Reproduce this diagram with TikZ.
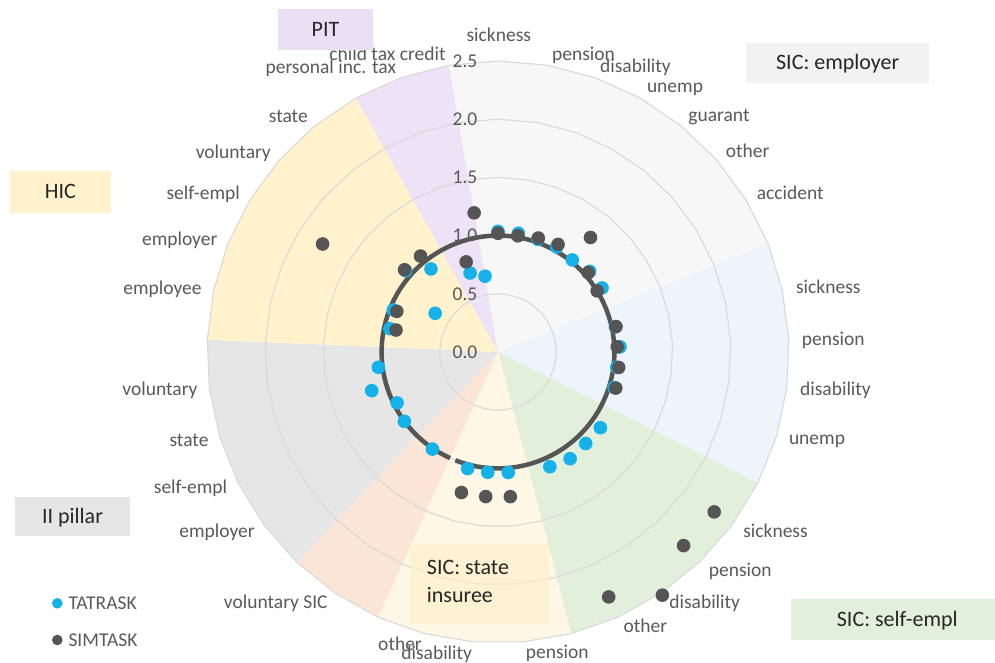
\documentclass[tikz,border=0pt]{standalone}
\usepackage{fontspec}
\setmainfont{Carlito}
\definecolor{labc}{HTML}{595959}
\definecolor{boxc}{HTML}{262626}
\definecolor{gridc}{HTML}{D9D9D9}
\definecolor{tatc}{HTML}{14B2E9}
\definecolor{simc}{HTML}{555555}
\definecolor{secwhite}{HTML}{F7F7F7}
\definecolor{secblue}{HTML}{EDF4FC}
\definecolor{secgreen}{HTML}{E2EFDA}
\definecolor{seclyellow}{HTML}{FFF7E5}
\definecolor{secpeach}{HTML}{FBE5D6}
\definecolor{secgrey}{HTML}{E6E6E6}
\definecolor{secyellow}{HTML}{FFF2CC}
\definecolor{secpurple}{HTML}{EDE2F6}
\definecolor{boxwhite}{HTML}{F2F2F2}
\definecolor{boxpurple}{HTML}{EBDFF5}
\definecolor{boxstate}{HTML}{FFF0C8}
\begin{document}
\begin{tikzpicture}[x=1pt,y=-1pt,
  lab/.style={text=labc, font=\fontsize{19.5}{22}\selectfont, inner sep=0pt, text height=12.6pt, text depth=0pt, anchor=center},
  boxlab/.style={text=boxc, font=\fontsize{22}{26}\selectfont, inner sep=0pt, text height=14.2pt, text depth=0pt, anchor=center},
  gridline/.style={draw=gridc, line width=1.1pt},
  tat/.style={fill=tatc},
  sim/.style={fill=simc}]
\useasboundingbox (0,0) rectangle (995,663);
\begin{scope}[shift={(498,352)}]
  % sectors
  \fill[secwhite] (0,0) \foreach \i in {36,...,44} { -- ({\i*360/37-90}:291) } -- cycle;
  \fill[secblue] (0,0) \foreach \i in {7,...,12} { -- ({\i*360/37-90}:291) } -- cycle;
  \fill[secgreen] (0,0) \foreach \i in {12,...,17} { -- ({\i*360/37-90}:291) } -- cycle;
  \fill[seclyellow] (0,0) \foreach \i in {17,...,21} { -- ({\i*360/37-90}:291) } -- cycle;
  \fill[secpeach] (0,0) \foreach \i in {21,...,23} { -- ({\i*360/37-90}:291) } -- cycle;
  \fill[secgrey] (0,0) \foreach \i in {23,...,28} { -- ({\i*360/37-90}:291) } -- cycle;
  \fill[secyellow] (0,0) \foreach \i in {28,...,34} { -- ({\i*360/37-90}:291) } -- cycle;
  \fill[secpurple] (0,0) \foreach \i in {34,...,36} { -- ({\i*360/37-90}:291) } -- cycle;
  % grid rings
  \foreach \r in {58.2,116.4,174.6,232.8,291}
    \draw[gridline] (-90:\r) \foreach \i in {1,...,36} { -- ({\i*360/37-90}:\r) } -- cycle;
  % reference line at 1.0
  \draw[line width=4.5pt, draw=simc] (114.3:116.4) arc[start angle=114.3, end angle=471.5, radius=116.4];
  % TATRASK points
  \foreach \i/\r in {0/120.7,1/120.5,2/119.5,3/120.3,4/118.3,5/122.1,6/122.2,8/120.1,9/122.1,10/119.7,11/121.3,13/127.3,14/126.8,15/128.8,16/125.9,18/120.9,19/120.7,20/120.5,22/117.2,24/116.5,25/113,26/132.1,27/120.6,29/110.6,30/112.8,31/73.8,32/123,33/106.7,35/83.8,36/76.9}
    \fill[tat] ({\i*360/37-90}:\r) circle[radius=6.8];
  % SIMTASK points
  \foreach \i/\r in {0/118.7,1/117.9,2/120.9,3/123.2,4/147.2,5/120.1,6/116.5,8/120.7,9/119.4,10/121.7,11/123.2,13/268.9,14/268.2,15/293.5,16/268.8,18/145.2,19/145.1,20/145.2,29/104.3,30/109,31/206,32/124.5,33/123.3,35/95.6,36/141.2}
    \fill[sim] ({\i*360/37-90}:\r) circle[radius=6.8];
\end{scope}
% axis values
\foreach \v/\k in {0.0/0,0.5/1,1.0/2,1.5/3,2.0/4,2.5/5}
  \node[lab] (ax\k) at (465,{352-58.2*\k}) {\v};
% category labels
\node[lab] (c0) at (498.8,35) {sickness};
\node[lab] (c1) at (583.5,54) {pension};
\node[lab] (c2) at (635.5,66.5) {disability};
\node[lab] (c3) at (675,86.5) {unemp};
\node[lab] (c4) at (719,115.5) {guarant};
\node[lab] (c5) at (747.7,151.7) {other};
\node[lab] (c6) at (790.3,193.3) {accident};
\node[lab] (c8) at (828.3,287.3) {sickness};
\node[lab] (c9) at (833.3,339.3) {pension};
\node[lab] (c10) at (835.5,389.3) {disability};
\node[lab] (c11) at (817,438.5) {unemp};
\node[lab] (c13) at (775.5,530.7) {sickness};
\node[lab] (c14) at (740.3,570) {pension};
\node[lab] (c15) at (704.7,601.7) {disability};
\node[lab] (c16) at (645.3,626) {other};
\node[lab] (c18) at (557.3,651.7) {pension};
\node[lab] (c20) at (400,644) {other};
\node[lab] (c19) at (436.7,652.7) {disability};
\node[lab] (c22) at (275.8,601.7) {voluntary SIC};
\node[lab] (c24) at (217,531) {employer};
\node[lab] (c25) at (190.5,487.3) {self-empl};
\node[lab] (c26) at (189,440) {state};
\node[lab] (c27) at (160,389.3) {voluntary};
\node[lab] (c29) at (162.5,287.7) {employee};
\node[lab] (c30) at (179.7,239) {employer};
\node[lab] (c31) at (203.2,193.3) {self-empl};
\node[lab] (c32) at (233.3,152.3) {voluntary};
\node[lab] (c33) at (288.3,116) {state};
\node[lab] (c35) at (330.8,67.7) {personal inc. tax};
\node[lab] (c36) at (387.5,54) {child tax credit};
% group boxes
\fill[boxpurple] (277.7,9) rectangle (373.3,50);
\node[boxlab] (gpit) at (325.5,29.5) {PIT};
\fill[boxwhite] (746,42.7) rectangle (929.3,82.7);
\node[boxlab] (gemp) at (837.7,62.7) {SIC: employer};
\fill[secyellow] (10,170.7) rectangle (110.7,212.7);
\node[boxlab] (ghic) at (60.3,191.7) {HIC};
\fill[secgrey] (15,497.3) rectangle (130,535.7);
\node[boxlab] (gii) at (72.5,516.5) {II pillar};
\fill[boxstate, opacity=0.6] (410,544) rectangle (549,624);
\node[boxlab, anchor=west] (gst1) at (426.7,567.7) {SIC: state};
\node[boxlab, anchor=west] (gst2) at (426.7,595) {insuree};
\fill[secgreen] (791,599.3) rectangle (995,640);
\node[boxlab] (gself) at (897.3,619.7) {SIC: self-empl};
% legend
\fill[tatc] (57.3,603.3) circle[radius=5.3];
\node[lab, anchor=west] (legt) at (68.3,603.3) {TATRASK};
\fill[simc] (57.3,640) circle[radius=5.3];
\node[lab, anchor=west] (legs) at (68.3,640) {SIMTASK};
\end{tikzpicture}
\end{document}
